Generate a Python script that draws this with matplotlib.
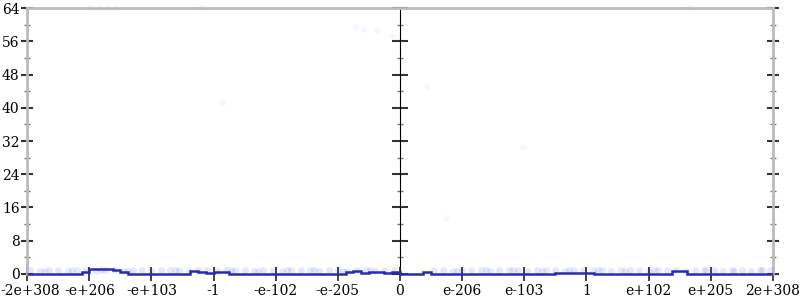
import numpy as np
import matplotlib.pyplot as plt
import matplotlib.transforms as mtransforms

plt.rcParams['font.family'] = ['DejaVu Serif']

# x positions are in "ordered double" units: -6 .. 6 (one unit per tick label)
tick_pos = [-6, -5, -4, -3, -2, -1, 0, 1, 2, 3, 4, 5, 6]
tick_labels = ['-2e+308', '-e+206', '-e+103', '-1', '-e-102', '-e-205', '0',
               'e-206', 'e-103', '1', 'e+102', 'e+205', '2e+308']

# histogram counts, 96 bins of width 0.125 from -6 to 6
counts_left = [0, 0, 0, 0, 0, 0, 0, 0.5, 1.1, 1.2, 1.1, 1.0,
               0.4, 0, 0, 0, 0, 0, 0, 0, 0, 0.6, 0.5, 0.2,
               0.5, 0.4, 0, 0, 0, 0, 0, 0, 0, 0, 0, 0,
               0, 0, 0, 0, 0, 0.4, 0.6, 0.3, 0.4, 0.4, 0.2, 0.4]
counts_right = [0, 0, 0, 0.4, 0, 0, 0, 0, 0, 0, 0, 0,
                0, 0, 0, 0, 0, 0, 0, 0, 0.3, 0.2, 0.2, 0.3,
                0.3, 0, 0, 0, 0, 0, 0, 0, 0, 0, 0, 0.7,
                0.7, 0, 0, 0, 0, 0, 0, 0, 0, 0, 0, 0]
counts = counts_left + counts_right

# faint individual samples near the bottom
low_x = [-5.95, -5.8, -5.65, -5.5, -5.35, -5.2, -5.05, -4.9, -4.75, -4.6,
         -4.45, -4.3, -4.15, -4.0, -3.85, -3.7, -3.55, -3.4, -3.25, -3.1,
         -2.95, -2.8, -2.65, -2.5, -2.35, -2.2, -2.05, -1.9, -1.75, -1.6,
         -1.45, -1.3, -1.15, -1.0, -0.85, -0.7, -0.55, -0.4, -0.25, -0.1,
         0.55, 0.7, 0.85, 1.0, 1.15, 1.3, 1.45, 1.6, 1.75, 1.9,
         2.05, 2.2, 2.35, 2.5, 2.65, 2.8, 2.95, 3.1, 3.25, 3.4,
         3.55, 3.7, 3.85, 4.0, 4.15, 4.3, 4.45, 4.6, 4.75, 4.9,
         5.05, 5.2, 5.35, 5.5, 5.65, 5.8, 5.95,
         -5.72, -5.28, -4.82, -4.38, -3.62, -2.72, -2.28, -1.82, -1.38, -0.92,
         -0.48, 0.92, 1.38, 1.82, 2.28, 2.72, 3.18, 3.62, 4.08, 4.92, 5.38, 5.82]
low_y = [0.9, 0.8, 1.0, 0.9, 0.7, 1.0, 0.9, 0.8, 1.0, 0.9,
         0.8, 0.9, 1.0, 0.8, 0.9, 1.0, 0.9, 0.7, 0.9, 1.0,
         0.8, 0.9, 1.0, 0.9, 0.8, 1.0, 0.9, 0.8, 0.9, 1.0,
         0.9, 0.8, 1.0, 0.9, 0.8, 0.9, 1.0, 0.8, 0.9, 0.9,
         0.9, 1.0, 0.8, 0.9, 1.0, 0.9, 0.8, 0.9, 1.0, 0.9,
         0.8, 0.9, 1.0, 0.9, 0.8, 1.0, 0.9, 0.9, 1.0, 0.8,
         0.9, 1.0, 0.9, 0.8, 0.9, 1.0, 0.9, 0.8, 0.9, 1.0,
         0.9, 0.8, 1.0, 0.9, 0.8, 0.9, 1.0,
         0.8, 0.9, 1.0, 0.8, 0.9, 1.0, 0.8, 0.9, 1.0, 0.8,
         0.9, 0.8, 1.0, 0.9, 0.8, 1.0, 0.9, 0.8, 1.0, 0.9, 0.8, 1.0]

# faint outlier samples
out_x = [-4.99, -4.84, -4.72, -4.57, -3.22, -0.72, -0.58, -0.37, -0.13,
         -2.86, 0.43, 4.64, 1.98, 0.74]
out_y = [64, 64, 64, 64, 64, 59.4, 59.0, 58.7, 57.3,
         41.1, 45.2, 64, 30.6, 13.5]

fig = plt.figure(figsize=(8, 3), dpi=100)
ax = fig.add_axes([0.034, 0.087, 0.932, 0.886])

edges = np.linspace(-6, 6, len(counts) + 1)
ax.scatter(low_x, low_y, s=24, color='#2233ff', alpha=0.11, linewidths=0, clip_on=False)
ax.scatter(out_x, out_y, s=20, color='#2233ff', alpha=0.045, linewidths=0, clip_on=False)
ax.stairs(counts, edges, color='#2a2ab0', linewidth=1.8, clip_on=False, zorder=3)

ax.set_xlim(-6, 6)
ax.set_ylim(0, 64)

grey = '#bbbbbb'
for s in ['left', 'right', 'top']:
    ax.spines[s].set_color(grey)
    ax.spines[s].set_linewidth(2)
ax.spines['bottom'].set_visible(False)

ax.set_xticks(tick_pos)
ax.set_xticklabels(tick_labels, fontsize=10)
ax.set_yticks(range(0, 65, 8))
ax.set_yticks(range(4, 64, 8), minor=True)
ax.tick_params(axis='y', which='major', direction='inout', length=9, width=1.5,
               color='#333333', labelsize=10, pad=1, right=True)
ax.tick_params(axis='y', which='minor', direction='inout', length=5, width=1,
               color='#777777', right=True)
ax.tick_params(axis='x', which='major', direction='inout', length=10, width=1.2,
               color='#222222', pad=2)

# nudge the outermost x labels so they stay inside the picture
first = ax.get_xticklabels()[0]
first.set_transform(first.get_transform() +
                    mtransforms.ScaledTranslation(3 / 100, 0, fig.dpi_scale_trans))

# middle axis at zero
mid = ax.secondary_yaxis(0.5)
mid.spines['left'].set_color(grey)
mid.spines['left'].set_linewidth(2)
mid.set_yticks(range(0, 65, 8))
mid.set_yticks(range(4, 64, 8), minor=True)
mid.set_yticklabels([])
mid.tick_params(which='major', direction='inout', length=11, width=1.5,
                color='#333333', labelleft=False, labelright=False)
mid.tick_params(which='minor', direction='inout', length=5, width=1,
                color='#777777')

fig.savefig('out.png')
